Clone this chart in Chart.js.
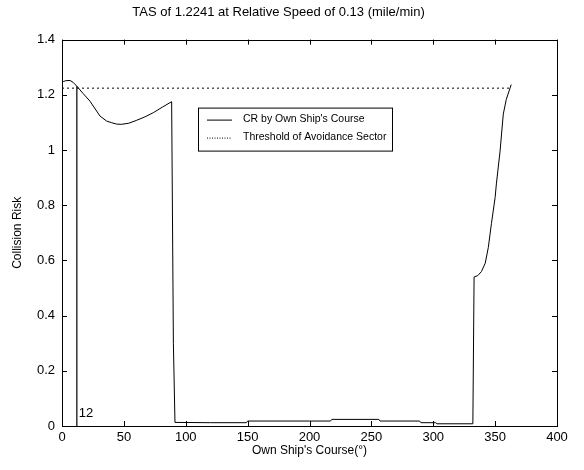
<!DOCTYPE html>
<html>
<head>
<meta charset="utf-8">
<script src="https://cdn.jsdelivr.net/npm/chart.js@4.4.0/dist/chart.umd.min.js"></script>
<style>
  html, body { margin: 0; padding: 0; background: #fff; }
  #wrap { width: 584px; height: 470px; }
</style>
</head>
<body>
<div id="wrap"><canvas id="c" width="584" height="470"></canvas></div>
<script>
// ---- data ----
const chartTitle = "TAS of 1.2241 at Relative Speed of 0.13 (mile/min)";
const xAxisTitle = "Own Ship's Course(\u00B0)";
const yAxisTitle = "Collision Risk";

const crCourse = [0, 1, 3, 6.5, 9, 12, 17, 22.6, 30.7, 36, 40, 44, 48, 54, 60, 67, 73.7, 81, 88.6,
  90, 91.3, 120, 149, 150, 200, 217, 218, 256, 257, 289, 290, 302, 303, 332, 333,
  336, 339, 342, 344.5, 347, 350, 351, 354, 356.6, 359, 363];
const crValue = [1.245, 1.248, 1.251, 1.252, 1.245, 1.231, 1.205, 1.177, 1.123, 1.105, 1.099, 1.094, 1.093, 1.097, 1.107, 1.12, 1.135, 1.155, 1.175,
  0.3, 0.013, 0.012, 0.012, 0.018, 0.018, 0.018, 0.024, 0.024, 0.018, 0.018, 0.012, 0.012, 0.008, 0.008, 0.54,
  0.545, 0.56, 0.59, 0.647, 0.733, 0.828, 0.877, 0.996, 1.13, 1.183, 1.237];

const thresholdCourse = [0, 362];
const thresholdValue = [1.2241, 1.2241];

const markerCourse = [12, 12];
const markerValue = [0, 1.231];
const markerLabel = "12";

const legendLabels = ["CR by Own Ship's Course", "Threshold of Avoidance Sector"];
const xTicks = [0, 50, 100, 150, 200, 250, 300, 350, 400];
const yTicks = [0, 0.2, 0.4, 0.6, 0.8, 1, 1.2, 1.4];

const FONT = "'Liberation Sans', Arial, Helvetica, sans-serif";

function pts(xs, ys) { return xs.map((x, i) => ({ x: x, y: ys[i] })); }

// ---- plugins ----
const framePlugin = {
  id: 'frame',
  afterDraw(chart) {
    const ctx = chart.ctx;
    const a = chart.chartArea;
    const xs = chart.scales.x, ys = chart.scales.y;
    ctx.save();
    ctx.strokeStyle = '#000';
    ctx.lineWidth = 1;
    ctx.strokeRect(Math.round(a.left) + 0.5, Math.round(a.top) + 0.5,
      Math.round(a.right - a.left), Math.round(a.bottom - a.top));
    const tl = 5;
    ctx.beginPath();
    xTicks.forEach(v => {
      const px = Math.round(xs.getPixelForValue(v)) + 0.5;
      ctx.moveTo(px, a.bottom); ctx.lineTo(px, a.bottom - tl);
      ctx.moveTo(px, a.top); ctx.lineTo(px, a.top + tl);
    });
    yTicks.forEach(v => {
      const py = Math.round(ys.getPixelForValue(v)) + 0.5;
      ctx.moveTo(a.left, py); ctx.lineTo(a.left + tl, py);
      ctx.moveTo(a.right, py); ctx.lineTo(a.right - tl, py);
    });
    ctx.stroke();

    // marker label
    ctx.fillStyle = '#000';
    ctx.font = "13px " + FONT;
    ctx.textAlign = 'left';
    ctx.textBaseline = 'middle';
    ctx.fillText(markerLabel, xs.getPixelForValue(markerCourse[0]) + 2, ys.getPixelForValue(0.045));

    // legend box
    const bx = a.left + 136, by = a.top + 68, bw = 194, bh = 43;
    ctx.fillStyle = '#fff';
    ctx.fillRect(bx, by, bw, bh);
    ctx.strokeStyle = '#000';
    ctx.strokeRect(bx + 0.5, by + 0.5, bw, bh);
    const rows = [by + 12, by + 30];
    ctx.lineWidth = 1;
    ctx.beginPath();
    ctx.setLineDash([]);
    ctx.moveTo(bx + 9, rows[0] + 0.5); ctx.lineTo(bx + 34, rows[0] + 0.5);
    ctx.stroke();
    ctx.beginPath();
    ctx.setLineDash([1, 1.5]);
    ctx.moveTo(bx + 9, rows[1] + 0.5); ctx.lineTo(bx + 34, rows[1] + 0.5);
    ctx.stroke();
    ctx.setLineDash([]);
    ctx.fillStyle = '#000';
    ctx.font = "10.5px " + FONT;
    ctx.textAlign = 'left';
    ctx.textBaseline = 'middle';
    ctx.fillText(legendLabels[0], bx + 45, rows[0]);
    ctx.fillText(legendLabels[1], bx + 45, rows[1]);
    ctx.restore();
  }
};

new Chart(document.getElementById('c'), {
  type: 'line',
  data: {
    datasets: [
      {
        label: legendLabels[0],
        data: pts(crCourse, crValue),
        borderColor: '#000',
        borderWidth: 1,
        pointRadius: 0,
        tension: 0,
        fill: false
      },
      {
        label: legendLabels[1],
        data: pts(thresholdCourse, thresholdValue),
        borderColor: '#000',
        borderWidth: 1,
        borderDash: [2, 3],
        pointRadius: 0,
        fill: false
      },
      {
        label: 'marker',
        data: pts(markerCourse, markerValue),
        borderColor: '#000',
        borderWidth: 1.2,
        pointRadius: 0,
        fill: false
      }
    ]
  },
  options: {
    responsive: false,
    animation: false,
    devicePixelRatio: 1,
    layout: { padding: { left: 0, right: 27, top: 0, bottom: 0 } },
    plugins: {
      legend: { display: false },
      tooltip: { enabled: false },
      title: {
        display: true,
        text: chartTitle,
        color: '#000',
        font: { family: FONT, size: 13, weight: 'normal' },
        padding: { top: 5, bottom: 19 }
      }
    },
    scales: {
      x: {
        type: 'linear',
        min: 0, max: 400,
        afterFit(s) { s.height = 44; },
        afterBuildTicks(s) { s.ticks = xTicks.map(v => ({ value: v })); },
        grid: { display: false, drawTicks: false },
        border: { display: false },
        ticks: { color: '#000', padding: 4, maxRotation: 0, font: { family: FONT, size: 13 } },
        title: {
          display: true, text: xAxisTitle, color: '#000',
          font: { family: FONT, size: 12 }, padding: { top: 0, bottom: 12 }
        }
      },
      y: {
        type: 'linear',
        min: 0, max: 1.4,
        afterFit(s) { s.width = 62; },
        afterBuildTicks(s) { s.ticks = yTicks.map(v => ({ value: v })); },
        grid: { display: false, drawTicks: false },
        border: { display: false },
        ticks: {
          color: '#000', padding: 7, font: { family: FONT, size: 13 },
          callback: v => String(Math.round(v * 10) / 10)
        },
        title: {
          display: true, text: yAxisTitle, color: '#000',
          font: { family: FONT, size: 12 }, padding: { top: 10, bottom: 0 }
        }
      }
    }
  },
  plugins: [framePlugin]
});
</script>
</body>
</html>
